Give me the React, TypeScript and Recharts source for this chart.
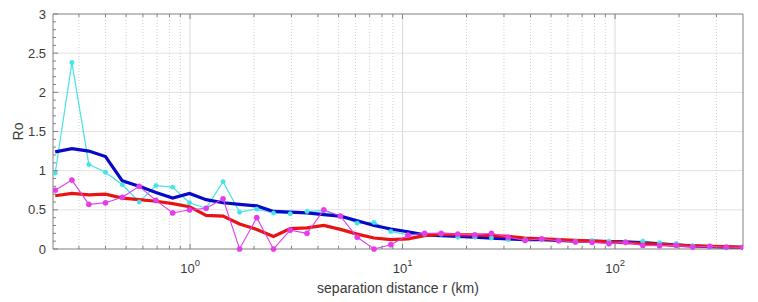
import React from "react";
import { LineChart, Line, XAxis, YAxis, ReferenceLine } from "recharts";

// separation distance r (km), log spaced bins
const distanceKm = [
  0.232, 0.278, 0.334, 0.4, 0.48, 0.576, 0.691, 0.828, 0.994, 1.19, 1.43,
  1.71, 2.06, 2.47, 2.96, 3.55, 4.26, 5.1, 6.12, 7.34, 8.81, 10.6, 12.7,
  15.2, 18.2, 21.9, 26.2, 31.4, 37.7, 45.2, 54.3, 65.1, 78, 93.6, 112, 135,
  162, 194, 232, 279, 334, 400,
];

const roCyan = [
  0.97, 2.38, 1.08, 0.98, 0.82, 0.6, 0.81, 0.79, 0.59, 0.52, 0.86, 0.47,
  0.51, 0.46, 0.45, 0.48, 0.49, 0.42, 0.33, 0.34, 0.225, 0.18, 0.19, 0.19,
  0.15, 0.15, 0.14, 0.12, 0.12, 0.12, 0.11, 0.1, 0.11, 0.1, 0.093, 0.1,
  0.08, 0.07, 0.042, 0.02, 0.015, 0.015,
];

const roMagenta = [
  0.75, 0.88, 0.57, 0.59, 0.66, 0.8, 0.62, 0.46, 0.5, 0.52, 0.64, 0, 0.4, 0,
  0.24, 0.2, 0.5, 0.42, 0.15, 0, 0.055, 0.175, 0.2, 0.2, 0.19, 0.18, 0.2,
  0.15, 0.11, 0.13, 0.105, 0.09, 0.085, 0.068, 0.085, 0.046, 0.042, 0.046,
  0.025, 0.034, 0.025, 0.021,
];

const roBlue = [
  1.24, 1.28, 1.25, 1.18, 0.87, 0.8, 0.72, 0.65, 0.71, 0.63, 0.59, 0.57,
  0.55, 0.48, 0.47, 0.46, 0.44, 0.42, 0.36, 0.3, 0.255, 0.22, 0.18, 0.17,
  0.16, 0.15, 0.14, 0.13, 0.12, 0.12, 0.11, 0.1, 0.1, 0.095, 0.09, 0.08,
  0.065, 0.05, 0.04, 0.03, 0.025, 0.02,
];

const roRed = [
  0.68, 0.71, 0.69, 0.7, 0.65, 0.63, 0.61, 0.58, 0.54, 0.43, 0.42, 0.32,
  0.25, 0.16, 0.26, 0.27, 0.3, 0.25, 0.19, 0.14, 0.12, 0.13, 0.17, 0.19,
  0.18, 0.18, 0.17, 0.16, 0.14, 0.13, 0.12, 0.11, 0.1, 0.09, 0.08, 0.07,
  0.06, 0.05, 0.04, 0.035, 0.03, 0.02,
];

const xMajorTicks = [1, 10, 100];
const xTickExponents = ["0", "1", "2"];
const xMinorTicks = [
  0.3, 0.4, 0.5, 0.6, 0.7, 0.8, 0.9, 2, 3, 4, 5, 6, 7, 8, 9, 20, 30, 40, 50,
  60, 70, 80, 90, 200, 300,
];
const xAllTicks = [...xMinorTicks, ...xMajorTicks].sort((a, b) => a - b);

const yMajorTicks = [0, 0.5, 1, 1.5, 2, 2.5, 3];
const yGridLines = [0.5, 1, 1.5, 2, 2.5];
const yAllTicks = Array.from({ length: 31 }, (_, k) => Math.round(k) / 10);

const CYAN = "#45e3e6";
const MAGENTA = "#e53be8";
const BLUE = "#0808c8";
const RED = "#e81414";
const AXIS = "#808080";
const TXT = "#3a3a3a";
const FONT = "'Liberation Sans', Arial, Helvetica, sans-serif";

const chartData = distanceKm.map((r, i) => ({
  r,
  cyan: roCyan[i],
  magenta: roMagenta[i],
  blue: roBlue[i],
  red: roRed[i],
}));

const isMajorX = (v: number) => xMajorTicks.includes(v);
const isMajorY = (v: number) => yMajorTicks.includes(v);

function BottomTick(props: any) {
  const { x, y, payload } = props;
  const idx = xMajorTicks.indexOf(payload.value);
  const major = idx >= 0;
  return (
    <g>
      <line x1={x} x2={x} y1={y} y2={y - (major ? 5 : 3)} stroke={AXIS} />
      {major && (
        <text x={x} y={y + 24} textAnchor="middle" fill={TXT} fontSize={13} fontFamily={FONT}>
          10
          <tspan dy={-7} fontSize={9.5}>
            {xTickExponents[idx]}
          </tspan>
        </text>
      )}
    </g>
  );
}

function TopTick(props: any) {
  const { x, y, payload } = props;
  const major = isMajorX(payload.value);
  return <line x1={x} x2={x} y1={y} y2={y + (major ? 5 : 3)} stroke={AXIS} />;
}

function LeftTick(props: any) {
  const { x, y, payload } = props;
  const major = isMajorY(payload.value);
  return (
    <g>
      <line x1={x} x2={x + (major ? 5 : 3)} y1={y} y2={y} stroke={AXIS} />
      {major && (
        <text x={x - 7} y={y + 4.5} textAnchor="end" fill={TXT} fontSize={13} fontFamily={FONT}>
          {payload.value}
        </text>
      )}
    </g>
  );
}

function RightTick(props: any) {
  const { x, y, payload } = props;
  const major = isMajorY(payload.value);
  return <line x1={x} x2={x - (major ? 5 : 3)} y1={y} y2={y} stroke={AXIS} />;
}

export default function App() {
  return (
    <div style={{ position: "absolute", left: 0, top: 0, width: 758, height: 302, background: "#fff" }}>
      <LineChart
        width={758}
        height={302}
        data={chartData}
        margin={{ top: 14, right: 15, bottom: 0, left: 0 }}
      >
        <XAxis
          dataKey="r"
          type="number"
          scale="log"
          domain={[0.2265, 400]}
          allowDataOverflow
          ticks={xAllTicks}
          interval={0}
          height={53}
          tickSize={0}
          tickMargin={0}
          tickLine={false}
          axisLine={{ stroke: AXIS }}
          tick={(p: any) => <BottomTick {...p} />}
          label={{
            content: ({ viewBox }: any) => (
              <text
                x={viewBox.x + viewBox.width / 2}
                y={viewBox.y + 44}
                textAnchor="middle"
                fill={TXT}
                fontSize={14}
                fontFamily={FONT}
              >
                separation distance r (km)
              </text>
            ),
          }}
        />
        <XAxis
          xAxisId="top"
          dataKey="r"
          type="number"
          scale="log"
          domain={[0.2265, 400]}
          allowDataOverflow
          orientation="top"
          mirror
          ticks={xAllTicks}
          interval={0}
          tickSize={0}
          tickMargin={0}
          tickLine={false}
          axisLine={{ stroke: AXIS }}
          tick={(p: any) => <TopTick {...p} />}
        />
        <YAxis
          type="number"
          domain={[0, 3]}
          ticks={yAllTicks}
          interval={0}
          width={53}
          tickSize={0}
          tickMargin={0}
          tickLine={false}
          axisLine={{ stroke: AXIS }}
          tick={(p: any) => <LeftTick {...p} />}
          label={{
            content: ({ viewBox }: any) => {
              const cx = viewBox.x + 18;
              const cy = viewBox.y + viewBox.height / 2;
              return (
                <text
                  x={cx}
                  y={cy}
                  transform={`rotate(-90 ${cx} ${cy})`}
                  textAnchor="middle"
                  dominantBaseline="central"
                  fill={TXT}
                  fontSize={14}
                  fontFamily={FONT}
                >
                  Ro
                </text>
              );
            },
          }}
        />
        <YAxis
          yAxisId="right"
          orientation="right"
          mirror
          type="number"
          domain={[0, 3]}
          ticks={yAllTicks}
          interval={0}
          tickSize={0}
          tickMargin={0}
          tickLine={false}
          axisLine={{ stroke: AXIS }}
          tick={(p: any) => <RightTick {...p} />}
        />

        {yGridLines.map((v) => (
          <ReferenceLine key={`h${v}`} y={v} stroke="#e2e2e2" strokeWidth={1} />
        ))}
        {xMinorTicks.map((v) => (
          <ReferenceLine key={`m${v}`} x={v} stroke="#cfcfcf" strokeDasharray="1 2" strokeWidth={1} />
        ))}
        {xMajorTicks.map((v) => (
          <ReferenceLine key={`M${v}`} x={v} stroke="#dadada" strokeWidth={1} />
        ))}

        <Line
          dataKey="cyan"
          stroke={CYAN}
          strokeWidth={1.2}
          dot={{ r: 2.2, fill: CYAN, stroke: CYAN, strokeWidth: 0.5 }}
          activeDot={false}
          isAnimationActive={false}
        />
        <Line
          dataKey="blue"
          stroke={BLUE}
          strokeWidth={3.2}
          dot={false}
          activeDot={false}
          isAnimationActive={false}
        />
        <Line
          dataKey="red"
          stroke={RED}
          strokeWidth={3.2}
          dot={false}
          activeDot={false}
          isAnimationActive={false}
        />
        <Line
          dataKey="magenta"
          stroke={MAGENTA}
          strokeWidth={1.1}
          dot={{ r: 2.6, fill: MAGENTA, stroke: MAGENTA, strokeWidth: 0.5 }}
          activeDot={false}
          isAnimationActive={false}
        />
      </LineChart>
    </div>
  );
}
